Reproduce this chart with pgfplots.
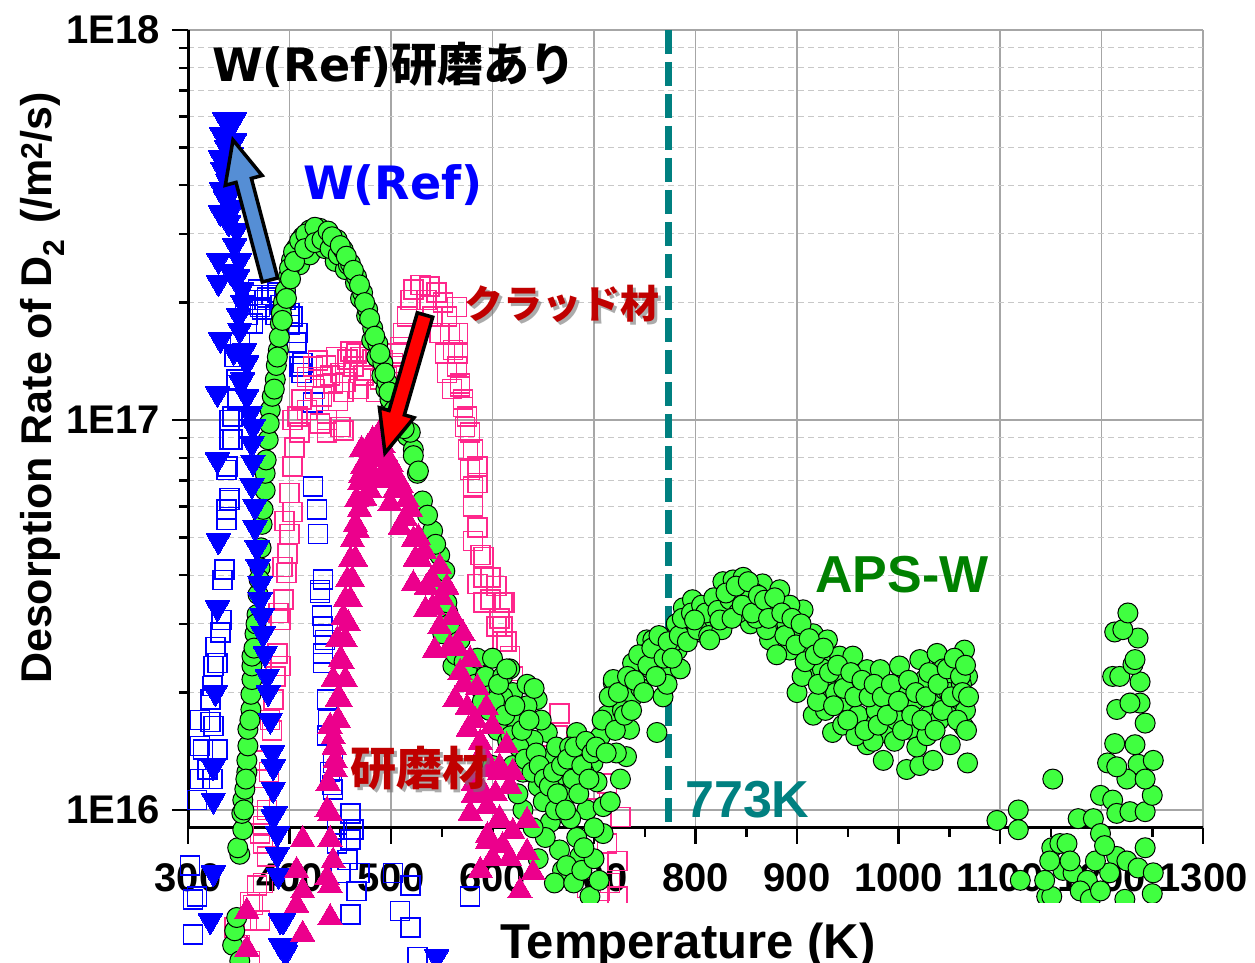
\documentclass[border=0pt]{standalone}
\usepackage{pgfplots}
\pgfplotsset{compat=1.18}
\usepackage{pgfplotstable}
\usepackage{fontspec}
\setmainfont{Liberation Sans}
\newfontfamily\dvs{DejaVu Sans}
\newfontfamily\jp{Noto Sans CJK JP}

\definecolor{ptGreen}{RGB}{64,255,64}
\definecolor{ptBlue}{RGB}{0,0,255}
\definecolor{ptPink}{RGB}{255,40,140}
\definecolor{ptMag}{RGB}{236,0,140}
\definecolor{txtRed}{RGB}{192,0,0}
\definecolor{txtGreen}{RGB}{0,128,0}
\definecolor{txtTeal}{RGB}{0,128,128}
\definecolor{arrBlue}{RGB}{85,142,213}
\definecolor{gridMajor}{RGB}{166,166,166}
\definecolor{gridMinor}{RGB}{200,200,200}

\newcommand\fs[1]{\fontsize{#1}{#1}\selectfont}

% W(Ref), open squares
\pgfplotstableread{
T rate
378 2.06e17
388 2.12e17
371 1.95e17
364 1.77e17
358 1.77e17
403 1.84e17
407 1.58e17
413 1.40e17
351 1.58e17
346 1.45e17
348 1.27e17
349 1.13e17
344 1.02e17
341 8.9e16
338 7.45e16
400 1.88e17
408 1.67e17
410 1.37e17
412 1.32e17
356 2.03e17
363 2.09e17
369 2.16e17
376 2.03e17
383 2.09e17
391 1.97e17
396 2.03e17
359 1.86e17
373 1.92e17
386 1.86e17
400 1.75e17
341 1.0e17
344 8.9e16
339 7.6e16
341 6.3e16
338 5.9e16
423 1.11e17
423 6.75e16
427 5.9e16
428 5.1e16
433 3.9e16
430 3.67e16
432 3.15e16
435 2.73e16
433 2.52e16
336 4.13e16
333 3.07e16
327 2.62e16
325 2.34e16
324 2.08e16
312 1.70e16
322 1.68e16
315 1.43e16
319 1.27e16
437 1.92e16
438 1.70e16
443 1.32e16
442 1.16e16
460 9.8e15
463 8.9e15
447 8.2e15
457 7.45e15
469 6.9e15
466 6.2e15
502 6.9e15
519 6.4e15
302 7.2e15
305 5.9e15
341 6.24e16
338 5.54e16
334 3.89e16
332 2.85e16
329 2.38e16
322 1.92e16
325 1.64e16
312 1.46e16
329 1.43e16
324 1.20e16
312 1.20e16
309 1.06e16
305 4.8e15
309 6.0e15
430 3.6e16
433 2.95e16
433 2.38e16
437 1.55e16
440 1.25e16
443 1.13e16
447 8.9e15
460 8.4e15
450 6.9e15
460 5.4e15
509 5.5e15
519 5.0e15
526 4.2e15
578 6.0e15
}\bluesq

% cladding material, open squares
\pgfplotstableread{
T rate
400 6.5e16
403 7.6e16
410 9.3e16
412 1.13e17
417 1.29e17
423 1.37e17
433 1.29e17
443 1.24e17
450 1.32e17
457 1.43e17
463 1.37e17
466 1.48e17
476 1.34e17
482 1.43e17
489 1.27e17
496 1.29e17
502 1.40e17
506 1.48e17
425 1.2e17
428 1.42e17
432 1.15e17
436 1.38e17
440 1.3e17
446 1.45e17
448 1.12e17
455 1.25e17
460 1.5e17
468 1.2e17
470 1.45e17
473 1.3e17
479 1.5e17
485 1.18e17
492 1.42e17
499 1.2e17
505 1.3e17
437 1.0e17
453 9.4e16
437 9.3e16
453 1.18e17
417 1.06e17
509 1.54e17
512 1.67e17
516 1.84e17
519 2.03e17
522 2.16e17
529 2.22e17
538 2.2e17
545 2.12e17
551 2.0e17
555 1.84e17
558 1.67e17
561 1.51e17
565 1.37e17
568 1.24e17
571 1.13e17
575 1.02e17
578 9.3e16
581 8.4e16
585 7.6e16
585 6.9e16
535 2.03e17
541 1.84e17
548 1.67e17
553 1.48e17
555 1.32e17
560 1.20e17
565 1.95e17
566 1.67e17
566 1.48e17
568 1.22e17
571 1.08e17
573 9.6e16
576 8.4e16
578 7.45e16
581 6.75e16
581 6.0e16
585 5.3e16
588 4.5e16
598 3.95e16
612 3.4e16
610 2.95e16
591 4.45e16
585 3.8e16
591 3.4e16
581 4.9e16
604 3.75e16
607 3.1e16
614 2.7e16
620 2.2e16
666 1.77e16
403 5.8e16
400 5.1e16
398 4.55e16
397 4.05e16
394 3.46e16
391 3.07e16
388 2.52e16
391 2.34e16
384 1.92e16
381 1.70e16
374 1.34e16
378 1.0e16
395 5.5e16
393 4.2e16
389 3.2e16
386 2.2e16
383 1.6e16
380 1.25e16
405 8.5e16
408 1.02e17
371 8.7e15
378 7.6e15
374 6.5e15
364 5.7e15
358 5.2e15
403 1.0e17
430 9.8e16
450 9.6e16
591 3.95e16
598 3.46e16
610 3.4e16
604 2.95e16
610 2.7e16
617 2.48e16
624 2.03e16
640 1.67e16
664 1.55e16
660 1.38e16
676 1.24e16
696 1.13e16
726 9.6e15
713 8.2e15
723 7.4e15
716 6.5e15
723 6.0e15
713 1.17e16
693 6.3e15
706 6.2e15
371 1.08e16
374 9.1e15
374 8.2e15
368 6.4e15
361 5.8e15
371 5.2e15
346 5.0e15
351 4.5e15
361 4.1e15
}\pinksq

% APS-W, filled circles
\pgfplotstableread{
T rate
344 4.5e15
346 4.9e15
351 4.1e15
348 5.3e15
351 7.7e15
349 8.0e15
354 8.9e15
353 9.8e15
354 1.06e16
356 1.13e16
358 1.25e16
358 1.34e16
359 1.46e16
359 1.61e16
362 1.81e16
362 1.98e16
363 2.16e16
363 2.34e16
363 2.48e16
366 2.83e16
368 3.17e16
369 3.57e16
371 4.18e16
373 5.4e16
376 6.6e16
376 7.3e16
379 8.9e16
381 1.06e17
386 1.27e17
389 1.51e17
391 1.77e17
394 2.0e17
399 2.33e17
402 2.57e17
407 2.77e17
413 2.95e17
420 3.07e17
430 3.10e17
410 2.5e17
420 2.65e17
435 2.75e17
445 2.55e17
455 2.43e17
372 4.7e16
374 5.9e16
377 7.9e16
380 9.8e16
383 1.15e17
387 1.38e17
390 1.63e17
392 1.88e17
396 2.15e17
400 2.45e17
404 2.7e17
410 2.88e17
416 3.0e17
425 3.12e17
365 2.6e16
367 3.0e16
370 3.9e16
361 1.7e16
357 1.2e16
355 1.0e16
385 1.2e17
388 1.45e17
393 1.8e17
397 2.05e17
401 2.3e17
405 2.55e17
415 2.75e17
425 2.85e17
432 2.9e17
440 2.75e17
448 2.65e17
458 2.5e17
465 2.25e17
470 2.05e17
476 1.85e17
481 1.6e17
486 1.45e17
491 1.3e17
495 1.2e17
500 1.08e17
438 3.05e17
447 2.90e17
453 2.73e17
460 2.52e17
466 2.33e17
472 2.12e17
477 1.92e17
482 1.72e17
487 1.57e17
492 1.40e17
496 1.25e17
499 1.13e17
506 1.0e17
516 9.1e16
522 8.4e16
519 9.3e16
522 8.1e16
526 7.3e16
527 7.4e16
531 6.2e16
541 5.2e16
548 4.5e16
551 3.7e16
551 2.83e16
561 2.34e16
556 3.2e16
568 2.73e16
578 2.2e16
442 2.95e17
450 2.8e17
456 2.63e17
463 2.42e17
469 2.22e17
474 2.0e17
479 1.82e17
484 1.64e17
489 1.48e17
494 1.32e17
498 1.18e17
503 1.06e17
510 9.6e16
513 9.5e16
536 5.7e16
544 4.8e16
553 4.1e16
555 3.4e16
558 3.0e16
564 2.5e16
572 2.4e16
575 2.3e16
583 2.1e16
588 2.05e16
593 2.2e16
585 2.45e16
590 1.9e16
597 1.8e16
600 2.45e16
610 2.2e16
620 2.0e16
627 1.75e16
634 2.1e16
644 1.92e16
654 1.58e16
637 1.43e16
620 1.30e16
654 1.30e16
670 1.18e16
683 1.58e16
610 1.95e16
634 1.85e16
624 1.67e16
640 1.51e16
654 1.35e16
670 1.23e16
683 1.37e16
659 1.06e16
657 9.3e15
666 7.9e15
669 7.0e15
683 8.5e15
693 1.0e16
703 1.18e16
709 1.02e16
709 8.7e15
696 6.0e15
686 7.6e15
645 7.5e15
652 8.5e15
661 6.5e15
673 7.2e15
680 6.5e15
688 7.0e15
700 7.5e15
705 6.6e15
640 9.0e15
630 1.0e16
625 1.1e16
699 1.32e16
706 1.54e16
713 1.75e16
719 2.12e16
726 1.20e16
732 1.37e16
735 1.61e16
738 1.95e16
742 2.38e16
752 2.73e16
762 1.58e16
768 1.95e16
775 2.29e16
782 2.57e16
788 2.75e16
794 3.35e16
807 2.85e16
821 3.45e16
827 3.85e16
831 3.15e16
719 2.16e16
738 2.38e16
758 2.73e16
788 3.3e16
797 3.46e16
804 3.26e16
605 1.6e16
615 1.5e16
630 1.25e16
645 1.15e16
650 1.05e16
662 1.0e16
675 1.1e16
677 9.5e15
690 8.0e15
700 9.0e15
716 1.05e16
722 1.4e16
728 1.8e16
746 2.05e16
748 2.5e16
756 2.3e16
765 2.57e16
772 2.1e16
778 2.7e16
785 2.3e16
790 2.9e16
800 3.1e16
812 3.0e16
816 3.3e16
600 1.3e16
648 1.7e16
663 1.45e16
690 1.25e16
676 1.45e16
617 2.3e16
641 2.05e16
602 1.9e16
606 2.1e16
612 1.75e16
614 2.3e16
618 1.55e16
622 1.85e16
626 1.45e16
629 1.6e16
632 1.35e16
636 1.7e16
639 1.25e16
643 1.4e16
646 1.3e16
651 1.2e16
656 1.15e16
660 1.25e16
664 1.1e16
668 1.3e16
672 1.0e16
674 1.35e16
679 1.2e16
681 1.45e16
685 1.1e16
688 1.3e16
692 1.5e16
695 1.2e16
698 1.4e16
702 1.45e16
708 1.7e16
712 1.4e16
715 1.95e16
721 1.6e16
724 2.0e16
730 1.75e16
733 2.2e16
737 1.8e16
740 2.15e16
744 2.5e16
749 2.0e16
753 2.35e16
757 2.6e16
761 2.2e16
764 2.8e16
769 2.45e16
773 2.7e16
777 2.45e16
781 3.0e16
784 2.8e16
787 3.1e16
792 2.7e16
796 3.2e16
802 2.9e16
806 3.35e16
810 3.2e16
813 2.8e16
818 3.5e16
822 3.25e16
826 2.9e16
837 3.89e16
847 3.95e16
866 3.8e16
883 3.67e16
906 3.26e16
916 2.83e16
930 2.73e16
942 2.48e16
955 2.48e16
969 2.29e16
982 2.29e16
1001 2.34e16
1021 2.43e16
1038 2.52e16
1058 2.38e16
1068 2.2e16
916 1.75e16
935 1.58e16
969 1.47e16
985 1.34e16
1008 1.27e16
1021 1.30e16
1034 1.34e16
1051 1.47e16
1068 1.32e16
994 1.81e16
1008 1.85e16
1034 1.92e16
1054 1.85e16
1064 1.64e16
844 3.46e16
864 3.26e16
883 3.07e16
903 2.73e16
923 2.43e16
942 2.16e16
962 2.03e16
982 1.92e16
854 3.0e16
873 2.73e16
893 2.57e16
913 2.29e16
933 2.03e16
952 1.81e16
972 1.70e16
991 1.56e16
1011 1.61e16
1031 1.75e16
1046 2.03e16
1060 1.92e16
1065 2.57e16
1056 2.16e16
1026 2.16e16
814 2.73e16
824 3.07e16
834 3.46e16
864 3.46e16
893 3.35e16
799 3.07e16
842 3.2e16
858 3.6e16
876 3.3e16
890 3.0e16
898 2.9e16
910 2.6e16
925 2.3e16
938 2.0e16
948 1.9e16
960 1.75e16
978 1.8e16
988 2.0e16
998 1.7e16
1004 2.0e16
1015 1.9e16
1018 1.45e16
1028 1.55e16
1040 1.7e16
1044 2.3e16
1050 2.0e16
1062 2.1e16
1066 1.8e16
928 1.8e16
945 1.65e16
958 1.55e16
975 1.5e16
900 2.0e16
905 2.2e16
920 1.9e16
880 2.5e16
870 2.9e16
860 3.1e16
850 3.7e16
830 3.6e16
836 3.1e16
840 3.75e16
846 3.35e16
852 3.85e16
856 3.2e16
862 3.55e16
868 3.45e16
872 3.1e16
878 3.5e16
885 3.2e16
888 2.8e16
895 3.1e16
899 2.65e16
904 3.0e16
908 2.4e16
912 2.75e16
918 2.5e16
921 2.1e16
926 2.6e16
932 2.25e16
936 1.85e16
940 2.35e16
946 2.05e16
950 1.7e16
953 2.25e16
957 1.95e16
964 2.15e16
967 1.6e16
971 1.95e16
976 2.1e16
980 1.65e16
984 1.95e16
989 1.75e16
993 2.1e16
996 1.5e16
1000 1.9e16
1004 1.6e16
1010 2.15e16
1013 1.75e16
1017 2.0e16
1023 1.7e16
1027 1.95e16
1030 2.25e16
1036 1.6e16
1039 2.1e16
1043 1.8e16
1048 2.3e16
1052 1.95e16
1055 2.45e16
1058 1.7e16
1061 2.2e16
1063 2.0e16
1066 2.35e16
1067 1.6e16
1069 1.95e16
1097 9.4e15
1118 1.0e16
1118 8.9e15
1152 1.2e16
1120 6.6e15
1146 6.0e15
1151 8.0e15
1151 6.0e15
1159 8.2e15
1166 8.2e15
1177 9.5e15
1162 7.0e15
1172 6.9e15
1186 6.6e15
1192 9.5e15
1199 1.09e16
1199 8.7e15
1211 1.06e16
1215 9.8e15
1215 7.6e15
1208 6.9e15
1225 7.4e15
1236 7.1e15
1243 8.0e15
1251 6.9e15
1250 6.1e15
1228 9.9e15
1243 9.9e15
1250 1.09e16
1236 1.31e16
1251 1.34e16
1225 1.20e16
1243 1.20e16
1206 1.32e16
1215 1.29e16
1233 1.47e16
1243 1.67e16
1215 1.81e16
1238 1.88e16
1228 1.88e16
1213 1.48e16
1211 2.2e16
1218 2.2e16
1238 2.13e16
1231 2.36e16
1233 2.43e16
1213 2.86e16
1236 2.76e16
1221 2.9e16
1226 3.2e16
1144 6.6e15
1149 7.4e15
1169 7.4e15
1179 6.2e15
1194 7.4e15
1203 8.1e15
1189 5.9e15
1199 6.2e15
1223 5.9e15
}\apsw

% W(Ref) polished, filled down-triangles
\pgfplotstableread{
T rate
336 5.9e17
346 5.9e17
341 5.6e17
333 5.4e17
346 5.2e17
332 4.7e17
334 4.4e17
339 4.1e17
347 4.5e17
338 5.0e17
343 4.8e17
333 3.9e17
344 3.9e17
337 3.7e17
340 3.2e17
332 3.4e17
344 3.5e17
348 3.07e17
346 2.8e17
342 2.4e17
330 2.57e17
351 2.57e17
330 2.25e17
349 2.33e17
353 2.16e17
354 2.0e17
350 1.85e17
332 1.61e17
351 1.70e17
356 1.51e17
345 1.5e17
358 1.40e17
352 1.25e17
329 1.17e17
354 1.27e17
358 1.15e17
361 1.04e17
364 9.6e16
363 8.7e16
329 7.9e16
364 7.8e16
363 6.8e16
366 6.0e16
330 4.9e16
366 5.3e16
368 4.7e16
369 4.2e16
371 3.8e16
329 3.3e16
371 3.46e16
373 3.15e16
374 2.83e16
376 2.52e16
378 2.2e16
327 2.0e16
379 2.0e16
381 1.70e16
325 1.29e16
383 1.40e16
384 1.29e16
384 1.13e16
325 1.06e16
386 9.8e15
384 9.6e15
388 8.7e15
388 7.7e15
389 6.8e15
325 6.9e15
322 5.2e15
391 5.2e15
394 5.2e15
391 4.5e15
398 4.5e15
396 4.3e15
545 4.2e15
}\bluetri

% polished material, filled triangles
\pgfplotstableread{
T rate
438 1.17e16
443 1.54e16
440 1.64e16
447 1.92e16
443 2.16e16
450 2.43e16
447 2.73e16
453 3.12e16
455 3.46e16
457 3.89e16
460 4.38e16
462 4.93e16
465 5.4e16
466 6.24e16
469 6.9e16
472 7.6e16
471 8.4e16
482 8.9e16
489 9.3e16
496 8.0e16
506 7.1e16
516 6.24e16
509 5.3e16
522 4.93e16
529 4.38e16
522 3.8e16
535 3.73e16
548 4.2e16
555 3.73e16
541 3.31e16
548 2.95e16
561 3.12e16
571 2.83e16
558 2.62e16
578 2.43e16
568 2.25e16
585 2.06e16
575 1.83e16
594 1.83e16
600 1.64e16
588 1.49e16
614 1.46e16
581 1.17e16
607 1.29e16
617 1.15e16
595 1.02e16
607 9.4e15
620 8.8e15
634 9.4e15
595 8.6e15
610 8.1e15
440 9.8e15
413 8.4e15
407 7.0e15
413 6.2e15
440 8.4e15
437 6.7e15
443 7.4e15
358 5.5e15
440 6.4e15
407 5.7e15
440 5.3e15
413 4.8e15
358 4.4e15
437 1.0e16
445 1.27e16
578 9.8e15
591 1.11e16
581 1.09e16
595 8.3e15
607 9.5e15
600 7.5e15
617 7.5e15
588 7.0e15
627 6.2e15
634 7.8e15
640 6.9e15
607 1.25e16
620 1.25e16
475 7.5e16
485 7.9e16
495 7.5e16
504 6.6e16
479 6.6e16
469 5.9e16
499 6.1e16
489 7.0e16
467 5.2e16
514 5.6e16
465 4.4e16
524 4.4e16
460 3.46e16
534 3.26e16
455 2.73e16
543 2.57e16
450 1.92e16
563 1.92e16
455 2.16e16
576 1.61e16
445 1.34e16
598 1.27e16
477 8.5e16
486 8.3e16
492 8.6e16
500 7.7e16
483 7.2e16
474 6.3e16
510 6.8e16
519 5.9e16
527 5.0e16
533 4.6e16
540 3.9e16
550 3.5e16
565 2.6e16
572 2.1e16
583 1.7e16
590 1.4e16
603 1.1e16
462 3.9e16
458 3.0e16
452 2.4e16
448 1.7e16
444 1.45e16
478 8.0e16
484 8.8e16
490 8.9e16
494 8.2e16
470 7.2e16
502 7.3e16
}\magtri

\begin{document}
\begin{tikzpicture}
\begin{axis}[
  name=ax,
  scale only axis, width=1015pt, height=798pt,
  xmin=300, xmax=1300,
  ymode=log, ymin=8.99e15, ymax=1e18,
  clip=false, set layers,
  axis x line*=bottom, axis y line*=left,
  axis line style={-, line width=3pt, black},
  every outer x axis line/.append style={-},
  every outer y axis line/.append style={-},
  xtick={300,400,...,1300},
  xticklabels={300,400,500,600,700,800,900,1000,1100,1200,1300},
  minor xtick={350,450,...,1250},
  ytick={1e16,1e17,1e18},
  yticklabels={1E16,1E17,1E18},
  minor ytick={2e16,3e16,4e16,5e16,6e16,7e16,8e16,9e16,2e17,3e17,4e17,5e17,6e17,7e17,8e17,9e17},
  tick align=outside,
  major tick length=16pt, minor tick length=9pt,
  tick style={black, line width=2.5pt},
  xmajorgrids, ymajorgrids, yminorgrids,
  major grid style={line width=1.5pt, color=gridMajor},
  minor grid style={line width=1pt, color=gridMinor, dash pattern=on 6pt off 4pt},
  ticklabel style={font=\fs{40}\bfseries, inner sep=0pt},
  xticklabel style={yshift=-19pt},
  yticklabel style={xshift=-12pt},
]
\addplot[only marks, mark=square, mark size=9.5pt,
  mark options={draw=ptBlue, fill=white, line width=1.5pt}] table[x=T, y=rate] {\bluesq};
\addplot[only marks, mark=square, mark size=9.5pt,
  mark options={draw=ptPink, fill=white, line width=1.5pt}] table[x=T, y=rate] {\pinksq};
\addplot[only marks, mark=*, mark size=10pt,
  mark options={draw=black, fill=ptGreen, line width=1pt}] table[x=T, y=rate] {\apsw};
\addplot[only marks, mark=triangle*, mark size=14pt,
  mark options={draw=ptBlue, fill=ptBlue, rotate=180, line width=0pt}] table[x=T, y=rate] {\bluetri};
\addplot[only marks, mark=triangle*, mark size=14pt,
  mark options={draw=ptMag, fill=ptMag, line width=0pt}] table[x=T, y=rate] {\magtri};
% 773 K marker line
\draw[txtTeal, line width=7pt, dash pattern=on 24pt off 8pt]
  (axis cs:773,1e18) -- (axis cs:773,9.3e15);
\end{axis}

\begin{scope}[shift={(ax.south west)}]
\begin{scope}[x=1pt, y=-1pt, shift={(-188pt,828pt)}]
  % arrows
  \filldraw[fill=arrBlue, draw=black, line width=3.5pt, miter limit=10]
    (262.3,282.0) -- (236.0,182.4) -- (225.3,185.3) -- (233,140)
    -- (262.1,175.5) -- (251.4,178.4) -- (277.7,278.0) -- cycle;
  \filldraw[fill=red, draw=black, line width=3.5pt, miter limit=10]
    (417.3,312.8) -- (389.0,410.5) -- (379.4,407.7) -- (385,453)
    -- (414.0,417.7) -- (404.4,414.9) -- (432.7,317.2) -- cycle;
  % labels
  \node[anchor=base west, inner sep=0pt] at (212,82)
    {\fs{46}\dvs\bfseries W(Ref)\jp\bfseries 研磨あり};
  \node[anchor=base west, inner sep=0pt, text=ptBlue] at (303,200)
    {\fs{46}\dvs\bfseries W(Ref)};
  \node[inner sep=0pt, text=black!55, opacity=0.6] at (565,307)
    {\fs{39}\jp\bfseries クラッド材};
  \node[inner sep=0pt, text=txtRed] at (562,304)
    {\fs{39}\jp\bfseries クラッド材};
  \node[inner sep=0pt, text=black!55, opacity=0.6] at (422,771)
    {\fs{46}\jp\bfseries 研磨材};
  \node[inner sep=0pt, text=txtRed] at (419,768)
    {\fs{46}\jp\bfseries 研磨材};
  \node[anchor=base west, inner sep=0pt, text=txtGreen] at (815,593)
    {\fs{52}\bfseries APS-W};
  \node[anchor=base west, inner sep=0pt, text=txtTeal] at (685,818)
    {\fs{52}\bfseries 773K};
  % axis titles
  \fill[white] (480,903) rectangle (1260,970);
  \node[anchor=base, inner sep=0pt] at (688,958)
    {\fs{49}\bfseries Temperature (K)};
  \node[anchor=base, inner sep=0pt, rotate=90] at (52,388)
    {\fs{43}\bfseries Desorption Rate of D\textsubscript{2}\hspace{0.35em}(/m\textsuperscript{2}/s)};
  \pgfresetboundingbox
  \path[use as bounding box] (0,0) rectangle (1255,963);
\end{scope}
\end{scope}
\end{tikzpicture}
\end{document}
